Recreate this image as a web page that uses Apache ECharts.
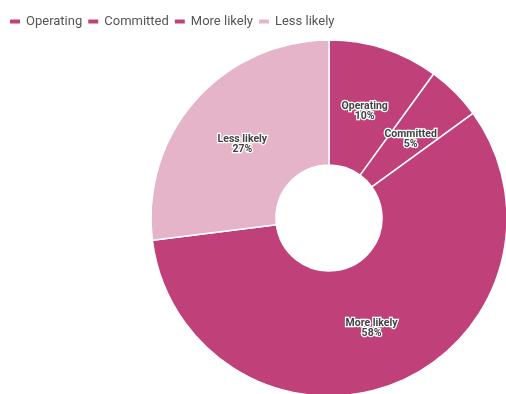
<!DOCTYPE html>
<html>
<head>
<meta charset="utf-8">
<script src="https://cdn.jsdelivr.net/npm/echarts@6/dist/echarts.min.js"></script>
<style>
  html, body { margin: 0; padding: 0; background: #fff; }
  #chart { width: 506px; height: 394px; }
</style>
</head>
<body>
<div id="chart"></div>
<script>
// Project pipeline shares by status
const categories = ['Operating', 'Committed', 'More likely', 'Less likely'];
const shares = [10, 5, 58, 27];
const colors = ['#c0407a', '#c0407a', '#c0407a', '#e6b4c9'];

const sliceData = categories.map((name, i) => ({
  name,
  value: shares[i],
  itemStyle: { color: colors[i] }
}));

const chart = echarts.init(document.getElementById('chart'));
chart.setOption({
  animation: false,
  legend: {
    left: 3,
    top: 10,
    padding: 5,
    itemWidth: 12,
    itemHeight: 6,
    itemGap: 4,
    icon: 'roundRect',
    textStyle: { fontFamily: 'Roboto', fontSize: 13, color: '#555' },
    data: categories
  },
  series: [
    {
      // the donut itself
      type: 'pie',
      center: [329, 218],
      radius: [53, 178],
      startAngle: 90,
      clockwise: true,
      itemStyle: { borderColor: '#fff', borderWidth: 1.5 },
      label: { show: false },
      labelLine: { show: false },
      data: sliceData
    },
    {
      // transparent ring that carries the slice labels a little nearer the hole
      type: 'pie',
      center: [329, 218],
      radius: [47, 178],
      startAngle: 90,
      clockwise: true,
      silent: true,
      legendHoverLink: false,
      avoidLabelOverlap: false,
      itemStyle: { color: 'rgba(0,0,0,0)', borderWidth: 0 },
      label: {
        show: true,
        position: 'inside',
        formatter: '{b}\n{d}%',
        fontFamily: 'Roboto',
        fontSize: 10.5,
        fontWeight: 'bold',
        lineHeight: 10,
        color: '#444',
        textBorderColor: '#fff',
        textBorderWidth: 2.5
      },
      labelLayout: { dy: 3 },
      labelLine: { show: false },
      data: categories.map((name, i) => ({ name, value: shares[i] }))
    }
  ]
});
</script>
</body>
</html>
